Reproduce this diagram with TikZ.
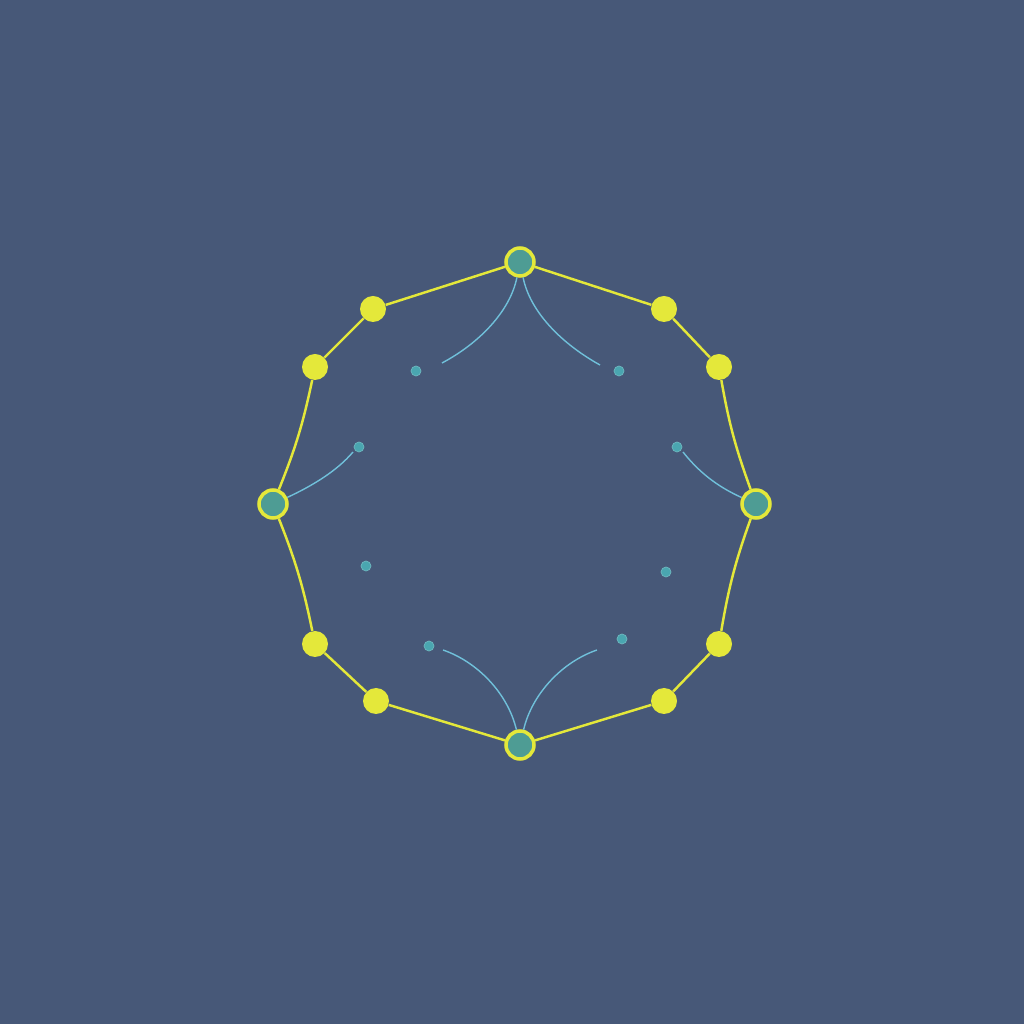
\documentclass[tikz,border=0pt]{standalone}
\definecolor{bgblue}{RGB}{71,88,120}
\definecolor{ringyellow}{RGB}{228,232,58}
\definecolor{hubteal}{RGB}{78,156,148}
\definecolor{arcblue}{RGB}{112,192,218}
\definecolor{dotteal}{RGB}{74,166,176}
\begin{document}
\begin{tikzpicture}[x=0.02cm,y=0.02cm,
    hub/.style={circle,fill=hubteal,draw=ringyellow,line width=2pt,inner sep=0pt,minimum size=0.56cm},
    bead/.style={circle,fill=ringyellow,inner sep=0pt,minimum size=0.52cm},
    seed/.style={circle,fill=dotteal,draw=dotteal!80!white,line width=0.4pt,inner sep=0pt,minimum size=0.2cm},
    rim/.style={ringyellow,line width=1.4pt},
    tendril/.style={arcblue,line width=0.8pt}]
            \fill[bgblue] (0,0) rectangle (1024,1024);
            \useasboundingbox (0,0) rectangle (1024,1024);
            % hubs
            \node[hub] (top) at (520,762) {};
            \node[hub] (bottom) at (520,279) {};
            \node[hub] (left) at (273,520) {};
            \node[hub] (right) at (756,520) {};
            % beads on the rim
            \node[bead] (tl1) at (373,715) {};
            \node[bead] (tl2) at (315,657) {};
            \node[bead] (tr1) at (664,715) {};
            \node[bead] (tr2) at (719,657) {};
            \node[bead] (bl1) at (315,380) {};
            \node[bead] (bl2) at (376,323) {};
            \node[bead] (br1) at (719,380) {};
            \node[bead] (br2) at (664,323) {};
            % seeds inside
            \node[seed] (s1) at (416,653) {};
            \node[seed] (s2) at (619,653) {};
            \node[seed] (s3) at (359,577) {};
            \node[seed] (s4) at (677,577) {};
            \node[seed] (s5) at (366,458) {};
            \node[seed] (s6) at (666,452) {};
            \node[seed] (s7) at (429,378) {};
            \node[seed] (s8) at (622,385) {};
            % rim
            \draw[rim] (top) -- (tl1) -- (tl2);
            \draw[rim] (tl2) to[bend left=5] (left);
            \draw[rim] (left) to[bend left=5] (bl1);
            \draw[rim] (bl1) -- (bl2) -- (bottom);
            \draw[rim] (top) -- (tr1) -- (tr2);
            \draw[rim] (tr2) to[bend right=5] (right);
            \draw[rim] (right) to[bend right=5] (br1);
            \draw[rim] (br1) -- (br2) -- (bottom);
            % tendrils
            \coordinate (e1) at (442,661);
            \coordinate (e2) at (600,659);
            \coordinate (e3) at (353,572);
            \coordinate (e4) at (683,572);
            \coordinate (e5) at (443,374);
            \coordinate (e6) at (597,374);
            \draw[tendril] (top) .. controls (510,712) and (478,680) .. (e1);
            \draw[tendril] (top) .. controls (530,712) and (562,680) .. (e2);
            \draw[tendril] (left) .. controls (312,538) and (337,553) .. (e3);
            \draw[tendril] (right) .. controls (716,538) and (698,553) .. (e4);
            \draw[tendril] (bottom) .. controls (508,330) and (478,362) .. (e5);
            \draw[tendril] (bottom) .. controls (532,330) and (562,362) .. (e6);
\end{tikzpicture}
\end{document}
